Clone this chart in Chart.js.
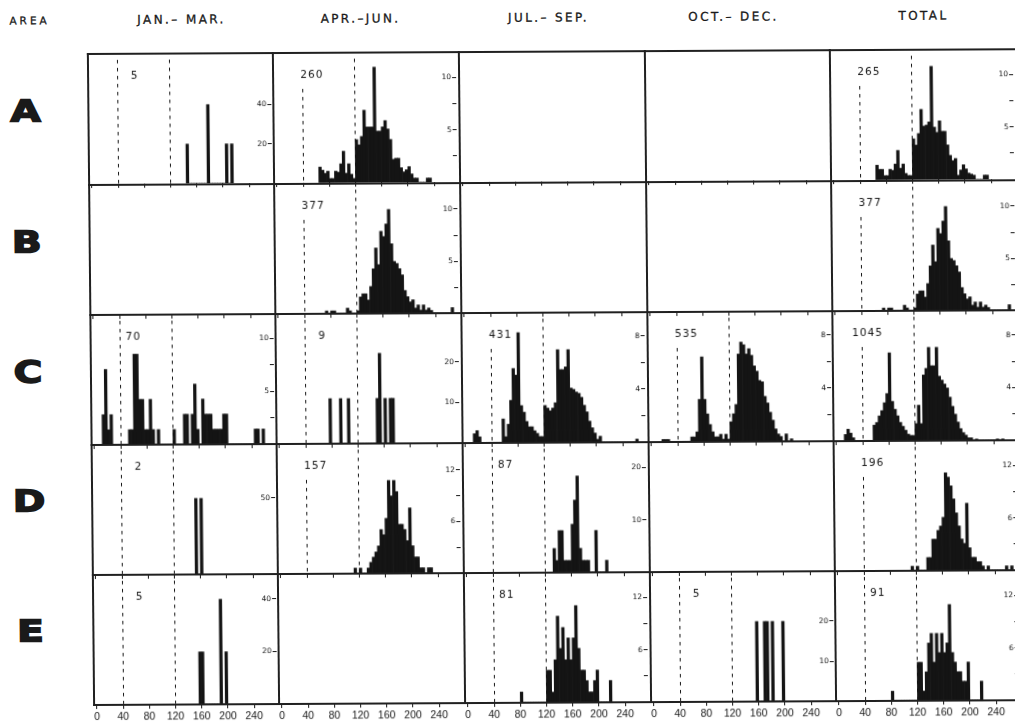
<!DOCTYPE html>
<html>
<head>
<meta charset="utf-8">
<script src="https://cdn.jsdelivr.net/npm/chart.js@4.4.1/dist/chart.umd.min.js"></script>
<style>
  body { margin: 0; background: #fff; width: 1015px; height: 721px; overflow: hidden; }
  #fig { position: absolute; left: 0; top: 0; width: 1015px; height: 721px; color: #1a1a1a;
         font-family: "DejaVu Sans", sans-serif;
         transform-origin: 280px 380px; transform: skewX(0.55deg) skewY(-0.3deg); }
  .hdr { position: absolute; top: 12px; font-size: 12px; letter-spacing: 2.4px; white-space: nowrap;
         transform: translateX(-50%); -webkit-text-stroke: 0.3px #1a1a1a; }
  .area { position: absolute; width: 40px; text-align: center; font-size: 30px; font-weight: bold;
          line-height: 30px; -webkit-text-stroke: 1.6px #1a1a1a; transform: scaleX(1.3); }
  .ln { position: absolute; background: #202020; z-index: 5; }
  canvas { position: absolute; }
</style>
</head>
<body>
<div id="fig"></div>
<script>
  'use strict';

  // column / row headings
  var quarters = ['JAN.\u2013 MAR.', 'APR.\u2013JUN.', 'JUL.\u2013 SEP.', 'OCT.\u2013 DEC.', 'TOTAL'];
  var areas = ['A', 'B', 'C', 'D', 'E'];
  var xTicks = [0, 40, 80, 120, 160, 200, 240];
  var binWidth = 4;

  // sample sizes (null = no sample)
  var nA = [5, 260, null, null, 265];
  var nB = [null, 377, null, null, 377];
  var nC = [70, 9, 431, 535, 1045];
  var nD = [2, 157, 87, null, 196];
  var nE = [5, null, 81, 5, 91];

  // percent per 4-unit class, first class given by the *Start value
  var aJanStart = 144;
  var aJan = [20, 0, 0, 0, 0, 0, 0, 0, 40, 0, 0, 0, 0, 0, 0, 20, 0, 20];
  var aAprStart = 64;
  var aApr = [1.5, 1.2, 0.9, 1.1, 0.4, 0.4, 1.1, 1.0, 1.8, 3.0, 0.9, 1.8, 0.8, 0.4,
    4.1, 3.6, 4.4, 6.9, 5.3, 5.3, 5.3, 11.0, 4.9, 4.9, 5.3, 5.9, 5.1, 4.1, 2.2, 2.3, 2.3, 1.4, 1.0, 1.2, 1.5, 0.8, 0.4, 0.4,
    0, 0, 0, 0.4, 0.4];
  var aTotStart = 64;
  var aTot = [1.4, 1.0, 1.0, 0.4, 0.4, 1.0, 0.9, 1.5, 2.8, 1.1, 1.5, 0.6, 0.4, 0.4,
    3.9, 3.3, 4.4, 6.7, 5.1, 5.2, 5.5, 10.8, 5.0, 4.5, 5.6, 4.6, 4.6, 3.3, 2.3, 1.8, 2.0, 0.4, 0.9, 1.4, 1.0, 0.6, 0.5, 0.4,
    0, 0, 0, 0.4, 0.4];

  var bAprStart = 72;
  var bApr = [0.27, 0, 0.27, 0.27, 0, 0, 0, 0, 0.53, 0.27, 0, 0,
    0.27, 1.6, 1.9, 1.9, 1.3, 2.6, 4.3, 6.3, 4.7, 7.9, 7.4, 8.6, 10.0, 6.7, 5.0, 4.8, 4.3, 3.7, 2.2, 1.6, 1.1, 1.3,
    0.5, 0.8, 0.3, 0.8, 0.3, 0.5, 0.27,
    0, 0, 0, 0, 0, 0, 0, 0.53];
  var bTotStart = 72;
  var bTot = [0.27, 0, 0.27, 0.27, 0, 0, 0, 0, 0.53, 0.27, 0, 0,
    0.27, 1.6, 1.9, 1.9, 1.3, 2.6, 4.3, 6.3, 4.7, 7.9, 7.4, 8.6, 10.0, 6.7, 5.0, 4.8, 4.3, 3.7, 2.2, 1.6, 1.1, 1.3,
    0.5, 0.8, 0.3, 0.8, 0.3, 0.5, 0.27,
    0, 0, 0, 0, 0, 0, 0, 0.53];

  var cJanStart = 12;
  var cJan = [2.86, 7.14, 1.43, 2.86, 0, 0, 0, 0, 0, 0,
    1.43, 1.43, 8.57, 8.57, 4.29, 4.29, 1.43, 1.43, 4.29, 1.43, 0, 1.43, 0, 0, 0, 0, 0,
    1.43, 0, 0, 0,
    2.86, 2.86, 0, 2.86, 5.71, 1.43, 0, 4.29, 2.86, 2.86, 2.86, 1.43, 1.43, 1.43, 1.43, 2.86, 2.86,
    0, 0, 0, 0, 0, 0, 0, 0, 0, 0, 1.43, 1.43, 0, 1.43];
  var cAprStart = 76;
  var cApr = [11.1, 0, 0, 0, 11.1, 0, 0, 11.1, 0, 0, 0, 0, 0, 0, 0, 0, 0, 0,
    11.1, 22.2, 0, 11.1, 0, 11.1, 11.1];
  var cJulStart = 12;
  var cJul = [0.7, 0.93, 0.46, 0, 0, 0, 0, 0, 0, 0, 0,
    1.8, 0.46, 1.4, 3.2, 5.6, 5.1, 8.3, 2.8, 2.3, 1.6, 1.2, 1.2, 0.9, 0.7, 0.46, 0.46,
    2.8, 2.6, 2.4, 2.6, 3.0, 7.0, 5.5, 5.5, 5.7, 7.0, 4.1, 4.0, 3.8, 3.7, 3.4, 2.8, 2.3, 1.6, 1.1, 0.7, 0.23, 0.46,
    0, 0, 0, 0, 0, 0, 0, 0, 0, 0, 0, 0, 0, 0.23];
  var cOctStart = 16;
  var cOct = [0.19, 0.19, 0.19, 0, 0, 0, 0, 0, 0, 0, 0,
    0.37, 0.37, 0.75, 3.2, 6.4, 3.2, 2.1, 1.3, 0.75, 0.37, 0.37, 0.56, 0.19, 0.56, 0.19,
    1.5, 2.1, 2.8, 6.6, 7.5, 7.3, 6.6, 7.0, 6.5, 5.7, 5.3, 4.6, 4.5, 3.4, 2.9, 2.2, 1.6, 0.94, 0.56, 0.37, 0, 0.56, 0, 0.19];
  var cTotStart = 12;
  var cTot = [0.5, 0.9, 0.6, 0.25, 0, 0, 0, 0, 0, 0, 0,
    1.2, 1.4, 1.9, 2.3, 2.9, 3.6, 6.7, 3.0, 2.4, 1.9, 1.4, 1.1, 0.8, 0.5, 0.4, 0.4,
    1.3, 2.7, 1.3, 5.0, 5.5, 7.1, 5.7, 5.7, 7.1, 4.9, 4.6, 4.3, 4.0, 3.3, 2.6, 2.0, 1.4, 0.9, 0.6, 0.4, 0.2, 0.2, 0, 0.1,
    0, 0, 0, 0, 0, 0, 0, 0.1, 0, 0.1];

  var dJanStart = 152;
  var dJan = [50, 0, 50];
  var dAprStart = 112;
  var dApr = [0.64, 0, 0.64, 0, 0, 0.64, 1.3, 1.9, 2.5, 3.2, 5.1, 4.5, 6.4, 10.8, 9.0, 10.8, 9.5, 5.7, 5.7, 5.1,
    3.8, 7.6, 3.2, 1.9, 1.9, 0.64, 0.64, 0, 0.64, 0.64];
  var dJulStart = 132;
  var dJul = [4.6, 2.3, 8.0, 8.0, 2.3, 2.3, 2.3, 9.2, 13.8, 18.4, 4.6, 2.3, 2.3, 2.3, 0, 0, 8.0, 0, 0, 0, 2.3];
  var dTotStart = 112;
  var dTot = [0.51, 0, 0.51, 0, 0, 0, 1.5, 1.5, 3.6, 3.6, 4.6, 5.1, 6.1, 11.2, 10.7, 9.7, 8.2, 6.6, 5.1, 3.6,
    3.1, 7.7, 2.6, 1.5, 1.5, 1.0, 1.0, 0.5, 0, 0.5, 0, 0, 0, 0, 0, 0, 0.5, 0, 0.5];

  var eJanStart = 156;
  var eJan = [20, 20, 0, 0, 0, 0, 0, 0, 40, 0, 20];
  var eJulStart = 80;
  var eJul = [1.23, 0, 0, 0, 0, 0, 0, 0, 0, 0,
    3.7, 3.7, 1.2, 4.9, 9.9, 6.2, 8.6, 4.9, 7.4, 4.9, 7.4, 11.1, 6.2, 3.7, 3.7, 2.5, 1.2, 1.2, 2.5, 3.7,
    0, 0, 0, 0, 2.5];
  var eOctStart = 156;
  var eOct = [20, 0, 0, 20, 20, 0, 20, 0, 0, 0, 20];
  var eTotStart = 80;
  var eTot = [1.1, 0, 0, 0, 0, 0, 0, 0, 0, 0,
    4.4, 4.4, 1.1, 3.3, 6.6, 7.7, 4.4, 7.7, 5.5, 7.7, 5.5, 6.6, 11.0, 5.5, 4.4, 3.3, 3.3, 2.2, 2.2, 4.4,
    0, 0, 0, 0, 2.2];

  // percent axes: top of each panel, tick values and the ones that carry a label
  var yMaxA = [66, 12.4, 12.4, 12.4, 12.4];
  var yMaxB = [12.4, 12.5, 12.5, 12.5, 12.5];
  var yMaxC = [12.3, 32, 9.8, 9.8, 9.9];
  var yMaxD = [85.5, 15.1, 24.8, 15, 14.9];
  var yMaxE = [49.5, 15, 14.9, 32.5, 14.9];
  var ticks20 = [20, 40];
  var ticks5 = [2.5, 5, 7.5, 10];
  var ticks10 = [10, 20];
  var ticks4 = [2, 4, 6, 8];
  var ticks50 = [50];
  var ticks6 = [3, 6, 9, 12];
  var labels5 = [5, 10];
  var labels4 = [4, 8];
  var labels6 = [6, 12];

  var grid = [
    [[aJanStart, aJan, ticks20, ticks20], [aAprStart, aApr, ticks5, labels5], null, null, [aTotStart, aTot, ticks5, labels5]],
    [null, [bAprStart, bApr, ticks5, labels5], null, null, [bTotStart, bTot, ticks5, labels5]],
    [[cJanStart, cJan, ticks5, labels5], [cAprStart, cApr, ticks10, ticks10], [cJulStart, cJul, ticks4, labels4],
     [cOctStart, cOct, ticks4, labels4], [cTotStart, cTot, ticks4, labels4]],
    [[dJanStart, dJan, ticks50, ticks50], [dAprStart, dApr, ticks6, labels6], [dJulStart, dJul, ticks10, ticks10], null,
     [dTotStart, dTot, ticks6, labels6]],
    [[eJanStart, eJan, ticks20, ticks20], null, [eJulStart, eJul, ticks6, labels6], [eOctStart, eOct, ticks10, ticks10],
     [eTotStart, eTot, ticks6, labels6]]
  ];
  var sizes = [nA, nB, nC, nD, nE];
  var yMaxes = [yMaxA, yMaxB, yMaxC, yMaxD, yMaxE];

  // layout
  var ink = '#141414';
  var colLeft = [91, 276, 462, 648, 833];
  var rowTop = [53, 184, 314, 444, 574];
  var panelW = 186, panelH = 130, axisH = 26, yAxisW = 7;
  var pxPerUnit = 0.655;
  var xMin = -4.3;
  var xMax = xMin + (panelW - yAxisW) / pxPerUnit;
  var labelEnd = 71;

  var fig = document.getElementById('fig');

  function addDiv(cls, css, text) {
    var d = document.createElement('div');
    d.className = cls;
    d.style.cssText = css;
    if (text) d.textContent = text;
    fig.appendChild(d);
  }

  addDiv('hdr', 'left:33px;font-size:10.5px;top:13px;letter-spacing:3px', 'AREA');
  var hdrX = [185, 364, 552, 737, 927];
  quarters.forEach(function (q, i) { addDiv('hdr', 'left:' + hdrX[i] + 'px', q); });
  var letterY = [95, 226, 356, 485, 615];
  areas.forEach(function (a, i) { addDiv('area', 'left:8px;top:' + letterY[i] + 'px', a); });

  // dashed class limits and sample size
  var panelMarks = {
    id: 'panelMarks',
    afterDatasetsDraw: function (chart, args, opts) {
      if (!opts.n) return;
      var ctx = chart.ctx, a = chart.chartArea, x = chart.scales.x;
      var label = String(opts.n);
      ctx.save();
      ctx.font = '10.5px "DejaVu Sans"';
      ctx.letterSpacing = '1px';
      var w = ctx.measureText(label).width;
      var right = x.getPixelForValue(labelEnd);
      ctx.strokeStyle = ink;
      ctx.lineWidth = 1;
      ctx.setLineDash([3.5, 4.5]);
      [40, 120].forEach(function (v) {
        var px = Math.round(x.getPixelForValue(v)) + 0.5;
        var y0 = (v === 40 && right - w < px + 3) ? a.top + 36 : a.top + 6;
        ctx.beginPath();
        ctx.moveTo(px, y0);
        ctx.lineTo(px, a.bottom);
        ctx.stroke();
      });
      ctx.fillStyle = ink;
      ctx.textAlign = 'left';
      ctx.textBaseline = 'middle';
      ctx.fillText(label, right - w + 1, a.top + 22);
      ctx.restore();
    }
  };

  function makePanel(r, c) {
    var cell = grid[r][c];
    var isBottom = r === areas.length - 1;
    var canvas = document.createElement('canvas');
    canvas.width = panelW;
    canvas.height = panelH + axisH;
    canvas.style.left = colLeft[c] + 'px';
    canvas.style.top = rowTop[r] + 'px';
    fig.appendChild(canvas);

    var datasets = [];
    var yTicks = [], yLabels = [];
    if (cell) {
      var start = cell[0];
      datasets.push({
        data: cell[1].map(function (v, i) { return { x: start + i * binWidth + binWidth / 2, y: v }; }),
        backgroundColor: ink,
        borderWidth: 0,
        barPercentage: 1,
        categoryPercentage: 1
      });
      yTicks = cell[2];
      yLabels = cell[3];
    }

    new Chart(canvas, {
      type: 'bar',
      data: { datasets: datasets },
      plugins: [panelMarks],
      options: {
        responsive: false,
        animation: false,
        devicePixelRatio: 1,
        layout: { padding: 0 },
        plugins: {
          legend: { display: false },
          tooltip: { enabled: false },
          panelMarks: { n: sizes[r][c] }
        },
        scales: {
          x: {
            type: 'linear', min: xMin, max: xMax, offset: false,
            afterBuildTicks: function (s) { s.ticks = xTicks.map(function (v) { return { value: v }; }); },
            afterFit: function (s) { s.height = axisH; s.paddingLeft = 0; s.paddingRight = 0; },
            grid: { drawOnChartArea: false, drawTicks: true, tickLength: 4, color: ink, offset: false },
            border: { display: false },
            ticks: {
              display: isBottom, autoSkip: false, maxRotation: 0, padding: 2, color: ink,
              font: { family: 'Liberation Sans', size: 10.5 }
            }
          },
          y: {
            type: 'linear', position: 'right', min: 0, max: yMaxes[r][c],
            afterBuildTicks: function (s) { s.ticks = yTicks.map(function (v) { return { value: v }; }); },
            afterFit: function (s) { s.width = yAxisW; s.paddingTop = 0; s.paddingBottom = 0; },
            grid: { drawOnChartArea: false, drawTicks: true, tickLength: 4, color: ink },
            border: { display: false },
            ticks: {
              mirror: true, padding: -1, autoSkip: false, color: ink,
              font: { family: 'DejaVu Sans', size: 7.5 },
              callback: function (v) { return yLabels.indexOf(v) >= 0 ? String(v) : ''; }
            }
          }
        }
      }
    });
  }

  for (var r = 0; r < areas.length; r++) {
    for (var c = 0; c < quarters.length; c++) makePanel(r, c);
  }

  // panel frame
  var gridBottom = rowTop[rowTop.length - 1] + panelH;
  rowTop.concat([gridBottom]).forEach(function (y) {
    addDiv('ln', 'left:' + (colLeft[0] - 1) + 'px;top:' + (y - 1) + 'px;width:' + (1030 - colLeft[0]) + 'px;height:2px');
  });
  colLeft.forEach(function (x) {
    addDiv('ln', 'left:' + (x - 1) + 'px;top:' + (rowTop[0] - 1) + 'px;width:2px;height:' + (gridBottom - rowTop[0] + 2) + 'px');
  });
</script>
</body>
</html>
